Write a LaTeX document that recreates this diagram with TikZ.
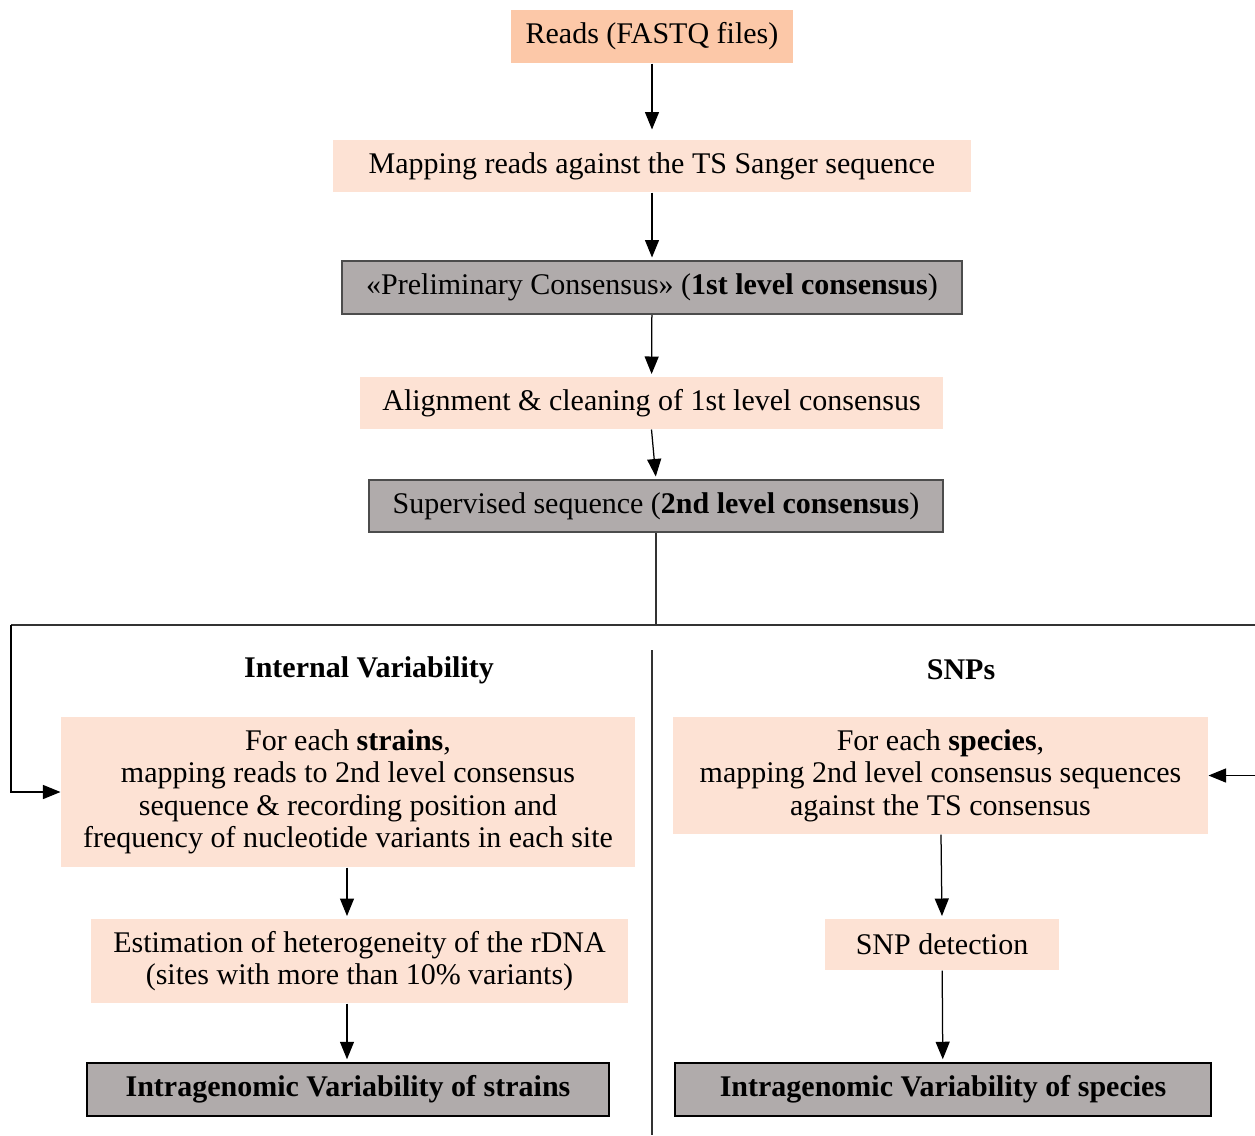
\documentclass[tikz,border=0pt]{standalone}
\usepackage{fontspec}
\setmainfont{Liberation Serif}
\usetikzlibrary{arrows.meta}

\definecolor{salmon}{RGB}{252,200,168}
\definecolor{peach}{RGB}{253,226,212}
\definecolor{greybox}{RGB}{176,171,171}

\tikzset{
  txt/.style={font=\fontsize{12}{13}\selectfont, align=center, inner sep=0pt},
  lightbox/.style={txt, fill=peach},
  darkbox/.style={txt, fill=greybox, draw=black!70, line width=0.8pt},
  arr/.style={-{Triangle[length=7pt,width=5.6pt]}, line width=0.5pt},
  plain/.style={line width=0.5pt, draw=black!80}
}

\begin{document}
\begin{tikzpicture}[x=0.4pt,y=-0.4pt]
\useasboundingbox (0,0) rectangle (1255,1135);

% Top chain
\node [lightbox, fill=salmon, minimum width=112.8pt, minimum height=21.2pt] (reads) at (652,36.5) {Reads (FASTQ files)};
\node [lightbox, minimum width=255.2pt, minimum height=20.8pt] (mapts) at (652,166) {Mapping reads against the TS Sanger sequence};
\node [darkbox, minimum width=248pt, minimum height=21.2pt] (prelim) at (652,287.5) {«Preliminary Consensus» (\textbf{1st level consensus})};
\node [lightbox, minimum width=233.2pt, minimum height=20.8pt] (align) at (651.5,403) {Alignment \& cleaning of 1st level consensus};
\node [darkbox, minimum width=229.6pt, minimum height=20.8pt] (superv) at (656,506) {Supervised sequence (\textbf{2nd level consensus})};

\draw [arr, shorten >=4pt] (reads) -- (mapts);
\draw [arr, shorten >=1pt] (mapts) -- (prelim);
\draw [arr, shorten >=1pt] (prelim) -- (align);
\draw [arr, shorten >=1pt] (align.south) -- (superv.north);

% Split
\coordinate (split) at (656,625);
\coordinate (lcorner) at (11,625);
\coordinate (rcorner) at (1260,625);
\coordinate (divtop) at (652,650);
\coordinate (divbot) at (652,1135);

% Headers
\node [txt, font=\fontsize{12}{13}\selectfont\bfseries] (hint) at (369,670) {Internal Variability};
\node [txt, font=\fontsize{12}{13}\selectfont\bfseries] (hsnp) at (961,670) {SNPs};

% Left column
\node [lightbox, minimum width=229.6pt, minimum height=60pt] (mapstr) at (348,792) {For each \textbf{strains},\\ mapping reads to 2nd level consensus\\ sequence \& recording position and\\ frequency of nucleotide variants in each site};
\node [lightbox, minimum width=214.8pt, minimum height=33.6pt] (estim) at (359.5,961) {Estimation of heterogeneity of the rDNA\\ (sites with more than 10\% variants)};
\node [darkbox, draw=black, line width=1pt, font=\fontsize{12}{13}\selectfont\bfseries, minimum width=208.8pt, minimum height=21.2pt] (ivstr) at (348,1089.5) {Intragenomic Variability of strains};

% Right column
\node [lightbox, minimum width=214pt, minimum height=46.8pt] (mapspe) at (940.5,775.5) {For each \textbf{species},\\ mapping 2nd level consensus sequences\\ against the TS consensus};
\node [lightbox, minimum width=93.6pt, minimum height=20.4pt] (snpdet) at (942,944.5) {SNP detection};
\node [darkbox, draw=black, line width=1pt, font=\fontsize{12}{13}\selectfont\bfseries, minimum width=214.4pt, minimum height=21.2pt] (ivspe) at (943,1089.5) {Intragenomic Variability of species};

% Connectors
\draw [plain] (superv) -- (split);
\draw [plain] (lcorner) -- (rcorner);
\draw [arr] (lcorner) |- (mapstr.west);
\draw [arr] (rcorner) |- (mapspe.east);
\draw [plain] (divtop) -- (divbot);

\draw [arr, shorten >=1pt] (mapstr.south -| 347,0) -- (estim.north -| 347,0);
\draw [arr, shorten >=1pt] (estim.south -| 347,0) -- (ivstr.north -| 347,0);
\draw [arr, shorten >=1pt] (mapspe.south -| 941,0) -- (snpdet.north);
\draw [arr, shorten >=1pt] (snpdet) -- (ivspe);

\end{tikzpicture}
\end{document}
